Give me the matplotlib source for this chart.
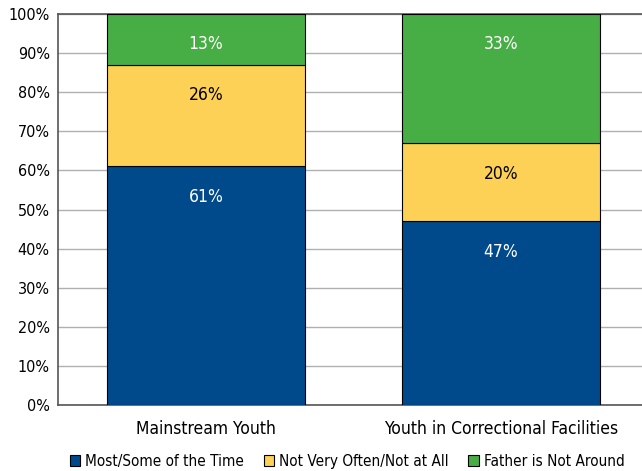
import numpy as np
import matplotlib.pyplot as plt

plt.rcParams['font.family'] = ['DejaVu Sans']
plt.rcParams['font.stretch'] = 'condensed'

groups = ["Mainstream Youth", "Youth in Correctional Facilities"]
series = ["Most/Some of the Time", "Not Very Often/Not at All", "Father is Not Around"]
most_some = [61, 47]
not_often = [26, 20]
not_around = [13, 33]
colors = ["#004a8c", "#fdd155", "#47ad45"]
label_colors = ["white", "black", "white"]

fig = plt.figure(figsize=(6.42, 4.71), dpi=100)
ax = fig.add_axes([58 / 642, 1 - 405 / 471, 584 / 642, 391 / 471])

x = np.arange(len(groups))
width = 0.67
bottom = np.zeros(len(groups))
for name, vals, col, lc in zip(series, [most_some, not_often, not_around], colors, label_colors):
    vals = np.array(vals)
    ax.bar(x, vals, width, bottom=bottom, color=col, edgecolor="black",
           linewidth=0.8, label=name, zorder=3)
    for xi, b, v in zip(x, bottom, vals):
        ax.text(xi, b + v - 7.8, f"{v}%", ha="center", va="center",
                color=lc, fontsize=12.5, zorder=4)
    bottom += vals

ax.set_xlim(-0.502, 1.478)
ax.set_ylim(0, 100)
ax.set_yticks(np.arange(0, 101, 10))
ax.set_yticklabels([f"{t}%" for t in range(0, 101, 10)], fontsize=11.5)
ax.set_xticks(x)
ax.set_xticklabels(groups, fontsize=12.5)
ax.tick_params(length=0, pad=6)
ax.tick_params(axis="x", pad=11)
ax.yaxis.grid(True, color="#b0b0b0", linewidth=1, zorder=0)
ax.spines["right"].set_visible(False)
for s in ["left", "top", "bottom"]:
    ax.spines[s].set_color("#555555")
    ax.spines[s].set_linewidth(1.2)

fig.legend(loc="lower center", bbox_to_anchor=(347 / 642, -0.025), ncol=3, frameon=False,
           fontsize=11, handlelength=0.7, handleheight=0.7, handletextpad=0.3,
           columnspacing=1.3)

fig.savefig("out.png", dpi=100)
